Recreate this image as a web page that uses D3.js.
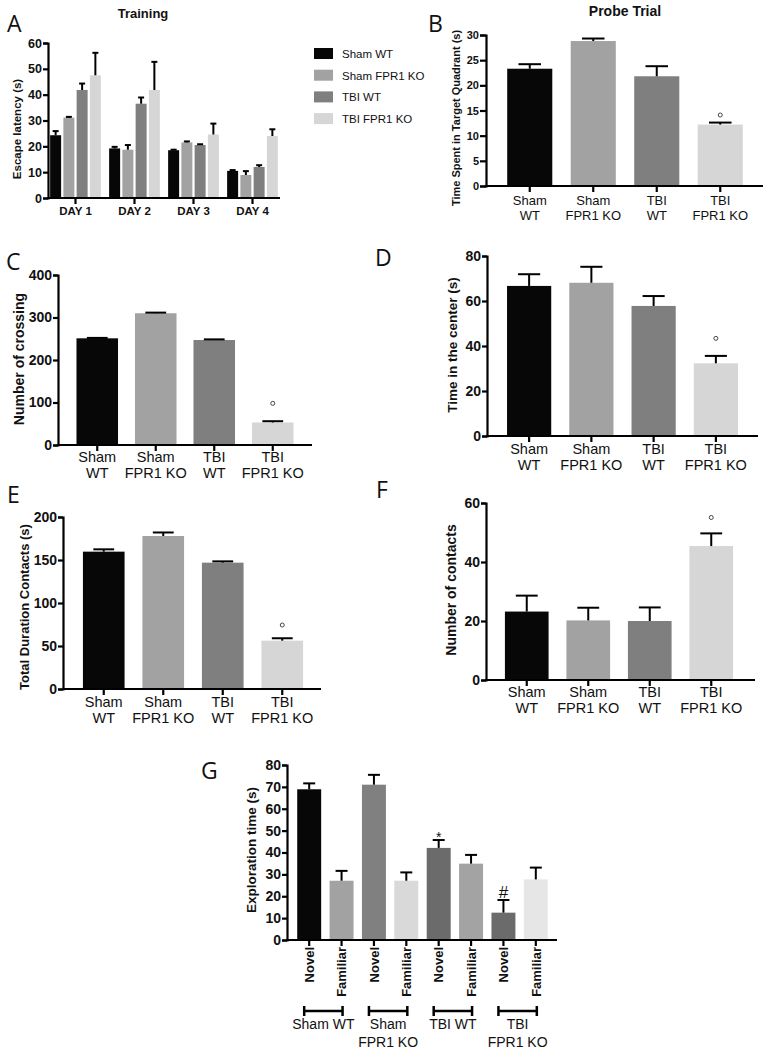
<!DOCTYPE html>
<html><head><meta charset="utf-8">
<script src="https://cdn.jsdelivr.net/npm/d3@7"></script>
<style>
body{margin:0;background:#fff;}
svg{display:block;}
</style></head>
<body>
<svg id="chart" width="769" height="1056"></svg>
<script>
// ---------- DATA ----------
const groups = ["Sham WT", "Sham FPR1 KO", "TBI WT", "TBI FPR1 KO"];
const groupLines = [["Sham", "WT"], ["Sham", "FPR1 KO"], ["TBI", "WT"], ["TBI", "FPR1 KO"]];
const groupColors = ["#070707", "#a2a2a2", "#7f7f7f", "#d6d6d6"];

const days = ["DAY 1", "DAY 2", "DAY 3", "DAY 4"];
// escape latency per group (rows) across days (cols)
const trainingMeans = [
  [24.3, 19.2, 18.5, 10.5],
  [31.1, 18.7, 21.5, 8.9],
  [41.8, 36.5, 20.5, 12.0],
  [47.5, 41.8, 24.6, 24.0]
];
const trainingSEM = [
  [1.6, 0.6, 0.2, 0.3],
  [0.3, 1.8, 0.4, 1.5],
  [2.5, 2.4, 0.3, 0.7],
  [8.7, 10.9, 4.2, 2.6]
];
const trainingTicks = [0, 10, 20, 30, 40, 50, 60];

const probeMeans = [23.3, 28.8, 21.8, 12.2];
const probeSEM = [0.9, 0.5, 2.0, 0.4];
const probeTicks = [0, 5, 10, 15, 20, 25, 30];

const crossingMeans = [251, 310, 247, 53];
const crossingSEM = [1, 1.5, 1.5, 3];
const crossingTicks = [0, 100, 200, 300, 400];

const centerMeans = [66.7, 68.1, 57.8, 32.3];
const centerSEM = [5.2, 7.1, 4.4, 3.3];
const centerTicks = [0, 20, 40, 60, 80];

const durationMeans = [159.7, 177.9, 146.9, 56.2];
const durationSEM = [2.7, 4.1, 1.5, 2.8];
const durationTicks = [0, 50, 100, 150, 200];

const contactsMeans = [23.2, 20.2, 20.0, 45.4];
const contactsSEM = [5.4, 4.3, 4.6, 4.3];
const contactsTicks = [0, 20, 40, 60];

const explorationCats = ["Novel", "Familiar", "Novel", "Familiar", "Novel", "Familiar", "Novel", "Familiar"];
const explorationMeans = [68.9, 27.1, 71.0, 27.1, 42.1, 34.9, 12.5, 27.7];
const explorationSEM = [2.7, 4.5, 4.5, 3.8, 3.6, 4.0, 5.8, 5.4];
const explorationColors = ["#070707", "#a2a2a2", "#808080", "#d9d9d9", "#6b6b6b", "#a3a3a3", "#6b6b6b", "#e6e6e6"];
const explorationTicks = [0, 10, 20, 30, 40, 50, 60, 70, 80];
const explorationBrackets = [["Sham WT"], ["Sham", "FPR1 KO"], ["TBI WT"], ["TBI", "FPR1 KO"]];

// significance markers: [index, y value, symbol]
const probeMarks = [[3, 14.1, "°"]];
const crossingMarks = [[3, 98, "°"]];
const centerMarks = [[3, 43.4, "°"]];
const durationMarks = [[3, 74.4, "°"]];
const contactsMarks = [[3, 55.1, "°"]];
const explorationMarks = [[4, 48.8, "*"], [6, 22.1, "#"]];

// ---------- DRAWING ----------
const FONT = "'Liberation Sans', Arial, Helvetica, sans-serif";
const LETTER_FONT = "'Open Sans', 'Noto Sans', sans-serif";
const svg = d3.select("#chart");

function yAxis(g, y, x0, ticks, fs, tsz) {
  const ax = d3.axisLeft(y).tickValues(ticks).tickSizeOuter(0).tickSize(tsz || 5).tickPadding(1).tickFormat(d3.format("d"));
  const a = g.append("g").attr("transform", `translate(${x0},0)`).call(ax);
  a.select(".domain").attr("stroke", "#000").attr("stroke-width", 2.2);
  a.selectAll(".tick line").attr("stroke", "#000").attr("stroke-width", 2.2);
  a.selectAll(".tick text").attr("font-family", FONT).attr("font-weight", "bold").attr("font-size", fs).attr("fill", "#111");
}

function xAxisLine(g, y0, ax0, ax1, centers) {
  g.append("line").attr("x1", ax0 - 1).attr("x2", ax1).attr("y1", y0).attr("y2", y0)
    .attr("stroke", "#000").attr("stroke-width", 2.2);
  g.selectAll(null).data(centers).join("line")
    .attr("x1", d => d).attr("x2", d => d).attr("y1", y0).attr("y2", y0 + 6)
    .attr("stroke", "#000").attr("stroke-width", 2.2);
}

function yLabel(g, text, x, y, fs) {
  g.append("text").attr("transform", `translate(${x},${y}) rotate(-90)`)
    .attr("text-anchor", "middle").attr("dy", "0.35em")
    .attr("font-family", FONT).attr("font-weight", "bold").attr("font-size", fs).attr("fill", "#111")
    .text(text);
}

function letter(g, t, x, y) {
  g.append("text").attr("x", x).attr("y", y).attr("font-family", LETTER_FONT)
    .attr("font-size", 23).attr("fill", "#111").text(t);
}

function errBars(g, data, xc, y, cap) {
  const eb = g.selectAll(null).data(data).join("g");
  eb.append("line").attr("x1", d => xc(d)).attr("x2", d => xc(d))
    .attr("y1", d => y(d.m)).attr("y2", d => y(d.m + d.e)).attr("stroke", "#000").attr("stroke-width", 2);
  eb.append("line").attr("x1", d => xc(d) - cap / 2).attr("x2", d => xc(d) + cap / 2)
    .attr("y1", d => y(d.m + d.e)).attr("y2", d => y(d.m + d.e)).attr("stroke", "#000").attr("stroke-width", 2);
}

function marks(g, list, x, y) {
  list.forEach(([i, v, s]) => {
    const cx = x(i) + x.bandwidth() / 2;
    if (s === "°") {
      g.append("circle").attr("cx", cx).attr("cy", y(v)).attr("r", 2).attr("fill", "none")
        .attr("stroke", "#444").attr("stroke-width", 1);
    } else {
      g.append("text").attr("x", cx).attr("y", y(v)).attr("text-anchor", "middle")
        .attr("dy", s === "*" ? "0.6em" : "0.35em")
        .attr("font-family", FONT).attr("font-size", s === "*" ? 14 : 17).attr("fill", "#111").text(s);
    }
  });
}

// generic 4-group bar panel
function groupPanel(cfg) {
  const g = svg.append("g");
  const y = d3.scaleLinear().domain([0, cfg.ticks[cfg.ticks.length - 1]]).range([cfg.yb, cfg.yt]);
  const x = d3.scaleBand().domain(d3.range(groups.length)).range(cfg.xr).paddingInner(cfg.pad).paddingOuter(cfg.pad / 2);
  const data = cfg.means.map((m, i) => ({ i, m, e: cfg.sem[i] }));
  g.selectAll(null).data(data).join("rect")
    .attr("x", d => x(d.i)).attr("width", x.bandwidth())
    .attr("y", d => y(d.m)).attr("height", d => y(0) - y(d.m))
    .attr("fill", d => groupColors[d.i]);
  errBars(g, data, d => x(d.i) + x.bandwidth() / 2, y, x.bandwidth() * 0.5);
  marks(g, cfg.marks, x, y);
  const centers = d3.range(groups.length).map(i => x(i) + x.bandwidth() / 2);
  xAxisLine(g, cfg.yb, cfg.ax[0], cfg.ax[1], centers);
  yAxis(g, y, cfg.ax[0], cfg.ticks, cfg.tfs, cfg.tsz);
  groupLines.forEach((lines, i) => {
    lines.forEach((t, k) => {
      g.append("text").attr("x", centers[i]).attr("y", cfg.yb + cfg.l1 + k * cfg.lh)
        .attr("text-anchor", "middle").attr("font-family", FONT).attr("font-size", cfg.cfs).attr("fill", "#111").text(t);
    });
  });
  yLabel(g, cfg.ylabel, cfg.ylx, cfg.yly, cfg.ylfs);
  letter(g, cfg.letter, cfg.lx, cfg.ly);
  if (cfg.title) {
    g.append("text").attr("x", cfg.title[1]).attr("y", cfg.title[2]).attr("text-anchor", "middle")
      .attr("font-family", FONT).attr("font-weight", "bold").attr("font-size", 14).attr("fill", "#111").text(cfg.title[0]);
  }
}

// ---- Panel A ----
(function () {
  const g = svg.append("g");
  const y = d3.scaleLinear().domain([0, 60]).range([198, 43]);
  const x0 = d3.scaleBand().domain(days).range([46, 282]).paddingInner(0.14).paddingOuter(0.07);
  const x1 = d3.scaleBand().domain(d3.range(groups.length)).range([0, x0.bandwidth()]).paddingInner(0.17);
  const data = [];
  groups.forEach((gr, gi) => days.forEach((d, di) => data.push({ day: d, gi, m: trainingMeans[gi][di], e: trainingSEM[gi][di] })));
  g.selectAll(null).data(data).join("rect")
    .attr("x", d => x0(d.day) + x1(d.gi)).attr("width", x1.bandwidth())
    .attr("y", d => y(d.m)).attr("height", d => y(0) - y(d.m))
    .attr("fill", d => groupColors[d.gi]);
  errBars(g, data, d => x0(d.day) + x1(d.gi) + x1.bandwidth() / 2, y, 6);
  const centers = days.map(d => x0(d) + x0.bandwidth() / 2);
  xAxisLine(g, 198, 48, 280, centers);
  yAxis(g, y, 48, trainingTicks, 12.5);
  days.forEach((d, i) => {
    g.append("text").attr("x", centers[i]).attr("y", 215).attr("text-anchor", "middle")
      .attr("font-family", FONT).attr("font-weight", "bold").attr("font-size", 11.5).attr("fill", "#111").text(d);
  });
  yLabel(g, "Escape latency (s)", 17, 129, 11.5);
  letter(g, "A", 7, 32);
  g.append("text").attr("x", 143).attr("y", 18).attr("text-anchor", "middle")
    .attr("font-family", FONT).attr("font-weight", "bold").attr("font-size", 13).attr("fill", "#111").text("Training");
  // legend
  const lg = g.append("g");
  groups.forEach((gr, i) => {
    lg.append("rect").attr("x", 314).attr("y", 48 + i * 21.7).attr("width", 19).attr("height", 11).attr("fill", groupColors[i]);
    lg.append("text").attr("x", 342).attr("y", 58 + i * 21.7).attr("font-family", FONT)
      .attr("font-size", 11.5).attr("fill", "#111").text(gr);
  });
})();

// ---- Panel B ----
groupPanel({ means: probeMeans, sem: probeSEM, ticks: probeTicks, marks: probeMarks,
  yb: 186, yt: 35, xr: [498, 752], pad: 0.29, ax: [486, 763], tfs: 11, tsz: 6, cfs: 13, l1: 19, lh: 15,
  ylabel: "Time Spent in Target Quadrant (s)", ylx: 456, yly: 118, ylfs: 11,
  letter: "B", lx: 428, ly: 32, title: ["Probe Trial", 625, 16] });

// ---- Panel C ----
groupPanel({ means: crossingMeans, sem: crossingSEM, ticks: crossingTicks, marks: crossingMarks,
  yb: 445, yt: 275, xr: [68, 302], pad: 0.29, ax: [58, 312], tfs: 14, cfs: 14.5, l1: 17, lh: 16,
  ylabel: "Number of crossing", ylx: 19, yly: 359, ylfs: 14,
  letter: "C", lx: 6, ly: 270 });

// ---- Panel D ----
groupPanel({ means: centerMeans, sem: centerSEM, ticks: centerTicks, marks: centerMarks,
  yb: 436, yt: 256, xr: [498, 747], pad: 0.29, ax: [487, 758], tfs: 14, cfs: 14.5, l1: 18, lh: 16,
  ylabel: "Time in the center (s)", ylx: 452, yly: 345, ylfs: 13.5,
  letter: "D", lx: 375, ly: 266 });

// ---- Panel E ----
groupPanel({ means: durationMeans, sem: durationSEM, ticks: durationTicks, marks: durationMarks,
  yb: 689, yt: 517, xr: [74, 312], pad: 0.3, ax: [63, 321], tfs: 14, cfs: 14.5, l1: 18, lh: 16,
  ylabel: "Total Duration Contacts (s)", ylx: 24, yly: 607, ylfs: 13,
  letter: "E", lx: 7, ly: 503 });

// ---- Panel F ----
groupPanel({ means: contactsMeans, sem: contactsSEM, ticks: contactsTicks, marks: contactsMarks,
  yb: 680, yt: 503, xr: [496, 742], pad: 0.29, ax: [486, 755], tfs: 14, cfs: 14.5, l1: 17, lh: 16,
  ylabel: "Number of contacts", ylx: 451, yly: 590, ylfs: 14,
  letter: "F", lx: 376, ly: 498 });

// ---- Panel G ----
(function () {
  const g = svg.append("g");
  const y = d3.scaleLinear().domain([0, 80]).range([940, 765]);
  const x = d3.scaleBand().domain(d3.range(explorationCats.length)).range([293, 552]).paddingInner(0.26).paddingOuter(0.13);
  const data = explorationMeans.map((m, i) => ({ i, m, e: explorationSEM[i] }));
  g.selectAll(null).data(data).join("rect")
    .attr("x", d => x(d.i)).attr("width", x.bandwidth())
    .attr("y", d => y(d.m)).attr("height", d => y(0) - y(d.m))
    .attr("fill", d => explorationColors[d.i]);
  errBars(g, data, d => x(d.i) + x.bandwidth() / 2, y, x.bandwidth() * 0.5);
  marks(g, explorationMarks, x, y);
  const centers = d3.range(explorationCats.length).map(i => x(i) + x.bandwidth() / 2);
  xAxisLine(g, 940, 287, 557, centers);
  yAxis(g, y, 287, explorationTicks, 14);
  explorationCats.forEach((c, i) => {
    g.append("text").attr("transform", `translate(${centers[i]},947) rotate(-90)`)
      .attr("text-anchor", "end").attr("dy", "0.36em")
      .attr("font-family", FONT).attr("font-weight", "bold").attr("font-size", 13).attr("fill", "#111").text(c);
  });
  explorationBrackets.forEach((lines, k) => {
    const a = centers[2 * k] - 5, b = centers[2 * k + 1] + 1, yy = 1011;
    g.append("line").attr("x1", a).attr("x2", b).attr("y1", yy).attr("y2", yy).attr("stroke", "#000").attr("stroke-width", 2.5);
    g.append("line").attr("x1", a).attr("x2", a).attr("y1", yy - 5).attr("y2", yy + 5).attr("stroke", "#000").attr("stroke-width", 2.5);
    g.append("line").attr("x1", b).attr("x2", b).attr("y1", yy - 5).attr("y2", yy + 5).attr("stroke", "#000").attr("stroke-width", 2.5);
    lines.forEach((t, j) => {
      g.append("text").attr("x", (a + b) / 2).attr("y", 1029 + j * 18).attr("text-anchor", "middle")
        .attr("font-family", FONT).attr("font-size", 14).attr("fill", "#111").text(t);
    });
  });
  yLabel(g, "Exploration time (s)", 251, 850, 13.5);
  letter(g, "G", 201, 779);
})();
</script>
</body></html>
